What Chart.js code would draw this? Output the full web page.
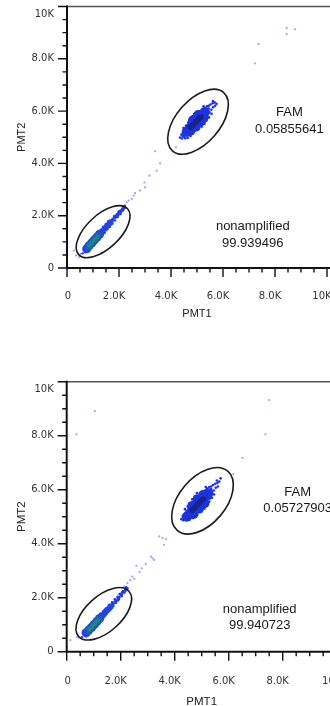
<!DOCTYPE html>
<html>
<head>
<meta charset="utf-8">
<script src="https://cdn.jsdelivr.net/npm/chart.js@4.4.1/dist/chart.umd.min.js"></script>
<style>
html, body { margin: 0; padding: 0; background: #fff; width: 330px; height: 706px; overflow: hidden; }
body { position: relative; }
.plot { position: absolute; left: 0; }
</style>
</head>
<body>
<div class="plot" style="top:0px"><canvas id="plotA" width="345" height="330"></canvas></div>
<div class="plot" style="top:376px"><canvas id="plotB" width="360" height="330"></canvas></div>
<script>
// axis ticks (PMT1 / PMT2, both 0..10K)
const tickValues = [0, 2000, 4000, 6000, 8000, 10000];
const tickLabels = ['0', '2.0K', '4.0K', '6.0K', '8.0K', '10K'];

// gates: [cx, cy, semi-major, semi-minor, angle deg] in PMT units
const gateNames = ['nonamplified', 'FAM'];
const gatesA = [[1389, 1388, 1285, 639, 43], [5040, 5595, 1488, 830, 48.5]];
const gatesB = [[1374, 1404, 1252, 659, 42], [5030, 5589, 1441, 859, 49.5]];
const pctA = ['99.939496', '0.05855641'];
const pctB = ['99.940723', '0.05727903'];

// ---- plot A events ----
const aSparse = [[12,160],[267,668],[455,410],[350,480],[520,540],
  [2300,2510],[2370,2580],[2490,2640],[2560,2770],[2620,2860],[2810,2960],[3000,3080],
  [2980,3270],[3170,3530],[3450,3720],[3580,4000],[3390,4460],[4190,4610],
  [7230,7820],[7360,8560],[8450,9170],[8450,8940],[8770,9130]];
const aLowEvents = [[600,560],[650,700],[700,600],[720,780],[780,700],[820,900],[880,780],[900,1000],
  [950,850],[1000,1120],[1050,930],[1100,1230],[1150,1050],[1200,1330],[1250,1150],[1300,1420],
  [1350,1250],[1400,1520],[1450,1350],[1500,1600],[1550,1480],[1600,1720],[1650,1580],[1700,1820],
  [1750,1700],[1800,1930],[1850,1820],[1900,2020],[1950,1950],[2000,2130],[2050,2060],[2100,2230],
  [2150,2200],[2200,2320],[2250,2300],[1250,1400],[1450,1580],[1700,1700],[1980,2150],[2220,2380],
  [1600,1600],[1820,1990],[2080,2120],[1380,1330],[1560,1700]];
const aLowBody = [[760,740],[850,850],[950,960],[1050,1070],[1150,1180],[1250,1290]];
const aLowNeck = [[1350,1400],[1450,1510],[1550,1620],[1650,1730]];
const aLowTail = [[1750,1840],[1850,1950],[1950,2050],[2050,2160],[2150,2260]];
const aLowInner = [[820,820],[920,930],[1020,1040],[1120,1150],[1220,1260]];
const aLowCore = [[860,860],[960,970],[1060,1085],[1160,1190]];
const aHighEvents = [[4350,4990],[4400,5100],[4420,4950],[4480,5200],[4500,5020],[4550,4960],[4560,5300],
  [4600,5100],[4620,5400],[4680,5150],[4700,5500],[4720,5250],[4780,5600],[4800,5200],[4850,5700],
  [4880,5350],[4920,5750],[4950,5400],[5000,5850],[5020,5450],[5080,5900],[5100,5500],[5150,5980],
  [5180,5600],[5220,6050],[5250,5700],[5300,6120],[5320,5800],[5380,6180],[5400,5880],[5450,6200],
  [5480,5950],[5520,6250],[5550,6050],[5600,6300],[5620,6150],[5680,6330],[5700,6200],[5450,6100],
  [4450,5050],[4650,4980],[4520,5120],[5750,6280],[5400,5750],[4620,5330],
  [4580,5450],[4660,5560],[4740,5680],[4840,5800],[5180,5400],[5280,5520],[5360,5640],[5460,5760],
  [4900,5900],[5560,5900],[4480,5350],[4750,5050],[5620,6380],[5250,6180]];
const aHighBody = [[4600,5200],[4700,5320],[4800,5430],[4900,5540],[5000,5650],[5100,5760],[5200,5870],
  [5300,5960],[4750,5250],[4950,5400],[5150,5600],[4850,5650],[5050,5850],[5250,5750]];
const aHighCore = [[4750,5380],[4850,5480],[4950,5580],[5050,5680],[5150,5770]];

// ---- plot B events ----
const bSparse = [[11,156],[138,427],[384,550],[450,520],
  [2120,2410],[2250,2540],[2350,2650],[2430,2780],[2500,2700],[2580,3180],[2700,2950],[2780,3090],
  [2930,3250],[3120,3520],[3180,3460],[3240,3400],[3430,4270],[3550,4210],[3680,4170],[3610,3960],
  [6170,6580],[6510,7180],[7500,9320],[1040,8910],[360,8050],[7360,8050]];
const bLowEvents = [[560,540],[620,680],[680,580],[700,770],[760,680],[800,890],[860,760],[880,990],
  [930,830],[980,1110],[1030,910],[1080,1220],[1130,1030],[1180,1320],[1230,1130],[1280,1420],
  [1330,1230],[1380,1520],[1430,1340],[1480,1610],[1530,1470],[1580,1730],[1630,1570],[1680,1830],
  [1730,1690],[1780,1940],[1830,1810],[1880,2030],[1930,1940],[1980,2140],[2030,2050],[2080,2240],
  [2130,2190],[2180,2330],[1230,1390],[1430,1570],[1680,1690],[1960,2140],[2200,2390],[1560,1640],
  [2250,2350],[1900,1900],[2050,2200],[1350,1300]];
const bLowBody = [[720,700],[820,800],[920,900],[1020,1010],[1120,1120],[1220,1230]];
const bLowNeck = [[1320,1340],[1420,1450],[1520,1560],[1620,1670]];
const bLowTail = [[1720,1790],[1820,1900],[1920,2010],[2020,2110],[2120,2220],[2200,2300]];
const bLowInner = [[800,790],[900,890],[1000,1000],[1100,1110],[1200,1220]];
const bLowCore = [[840,830],[940,930],[1040,1045],[1140,1150]];
const bHighEvents = [[4250,4910],[4300,5020],[4320,4870],[4380,5120],[4400,4940],[4450,4880],[4460,5220],
  [4500,5020],[4520,5320],[4580,5070],[4600,5420],[4620,5170],[4680,5520],[4700,5120],[4750,5620],
  [4780,5270],[4820,5670],[4850,5320],[4900,5770],[4920,5370],[4980,5820],[5000,5420],[5050,5900],
  [5080,5520],[5120,5970],[5150,5620],[5200,6040],[5220,5720],[5280,6100],[5300,5800],[5350,6120],
  [5380,5870],[5420,6170],[5450,5970],[5500,6220],[5520,6070],[5580,6250],[5600,6120],[5350,6020],
  [4350,4970],[4550,4900],[4420,5040],[5650,6300],[5300,5670],[4520,5250],[5700,6420],
  [4480,5380],[4560,5500],[4650,5640],[4750,5760],[5100,5300],[5200,5420],[5280,5560],[5380,5700],
  [4820,5880],[5460,5820],[4380,5280],[4650,4950],[5560,6340],[5150,6100]];
const bHighBody = [[4450,5000],[4550,5110],[4650,5220],[4750,5330],[4850,5440],[4950,5550],[5050,5660],
  [5150,5770],[5250,5870],[4700,5100],[4900,5300],[5100,5500],[4650,5400],[4850,5650],[5050,5800]];
const bHighCore = [[4650,5250],[4750,5350],[4850,5450],[4950,5550],[5050,5650]];

function pts(list) { return list.map(p => ({ x: p[0], y: p[1] })); }

function layer(list, color, r) {
  return { data: pts(list), backgroundColor: color, pointRadius: r, pointBorderWidth: 0, pointHoverRadius: r };
}

// Chart.js paints dataset 0 last, so the densest layers come first
function datasets(s) {
  return [
    layer(s.lowCore, '#178a80', 2.4),
    layer(s.highCore, '#17228f', 3),
    layer(s.lowInner, '#1f5cb4', 3.4),
    layer(s.lowBody, '#2546de', 4.6),
    layer(s.lowNeck, '#2244e0', 3.2),
    layer(s.lowTail, '#2040e6', 2),
    layer(s.highBody, '#1c34d8', 5),
    layer(s.lowEvents, '#1a2cff', 1.2),
    layer(s.highEvents, '#1a2cff', 1.3),
    layer(s.sparse, 'rgba(80,80,255,0.55)', 1.1)
  ];
}

// ticks, labels, frame, gates
const cytoPlugin = {
  id: 'cyto',
  afterDatasetsDraw(chart, args, o) {
    const { ctx, chartArea: a, scales: { x, y } } = chart;
    const x0 = x.getPixelForValue(0), y0 = y.getPixelForValue(0);
    const kx = (x.getPixelForValue(1000) - x0) / 1000;
    const ky = (y0 - y.getPixelForValue(1000)) / 1000;

    ctx.save();
    // gates
    ctx.strokeStyle = '#1c1c1c';
    ctx.lineWidth = 1.6;
    o.gates.forEach(g => {
      ctx.save();
      ctx.translate(x0, y0);
      ctx.scale(kx, -ky);
      ctx.beginPath();
      ctx.ellipse(g[0], g[1], g[2], g[3], g[4] * Math.PI / 180, 0, Math.PI * 2);
      ctx.restore();
      ctx.stroke();
    });

    // frame
    ctx.strokeStyle = '#555';
    ctx.lineWidth = 1.5;
    ctx.beginPath();
    ctx.moveTo(a.left, a.top);
    ctx.lineTo(a.right, a.top);
    ctx.stroke();
    ctx.strokeStyle = '#111';
    ctx.lineWidth = 2;
    ctx.beginPath();
    ctx.moveTo(a.left, a.top - 1);
    ctx.lineTo(a.left, a.bottom);
    ctx.lineTo(a.right, a.bottom);
    ctx.stroke();

    // tick marks every 500, long every 2000
    ctx.lineWidth = 1.4;
    for (let v = 0; v <= 10000; v += 500) {
      const len = v % 2000 === 0 ? 9 : 4.5;
      const py = y.getPixelForValue(v), px = x.getPixelForValue(v);
      ctx.beginPath();
      ctx.moveTo(a.left - len, py); ctx.lineTo(a.left, py);
      ctx.moveTo(px, a.bottom); ctx.lineTo(px, a.bottom + len);
      ctx.stroke();
    }

    // tick labels
    ctx.fillStyle = '#333';
    ctx.font = '10px "DejaVu Sans"';
    ctx.textBaseline = 'middle';
    tickValues.forEach((v, i) => {
      const lab = tickLabels[i];
      ctx.textAlign = 'right';
      ctx.fillText(lab, a.left - 13, Math.max(y.getPixelForValue(v), a.top + 7.5));
      ctx.textAlign = 'center';
      ctx.fillText(lab, x.getPixelForValue(v) + (lab.length > 1 ? -5 : 1), a.bottom + o.labelGap);
    });

    // axis titles
    ctx.font = o.titleSize + 'px "Liberation Sans"';
    ctx.fillStyle = '#222';
    const midX = (x.getPixelForValue(0) + x.getPixelForValue(10000)) / 2;
    ctx.fillText('PMT1', midX, a.bottom + o.titleGap);
    ctx.save();
    ctx.translate(22, (a.top + a.bottom) / 2);
    ctx.rotate(-Math.PI / 2);
    ctx.fillText('PMT2', 0, 0);
    ctx.restore();

    // gate statistics
    ctx.font = '13px "Liberation Sans"';
    ctx.fillStyle = '#1a1a1a';
    o.statPos.forEach((p, i) => {
      const px = x.getPixelForValue(p[0]), py = y.getPixelForValue(p[1]);
      ctx.fillText(gateNames[i], px, py);
      ctx.fillText(o.pct[i], px, py + 16.5);
    });
    ctx.restore();
  }
};

function makePlot(id, s, opt) {
  return new Chart(document.getElementById(id), {
    type: 'scatter',
    data: { datasets: datasets(s) },
    plugins: [cytoPlugin],
    options: {
      responsive: false,
      animation: false,
      layout: { padding: opt.padding },
      plugins: {
        legend: { display: false },
        tooltip: { enabled: false },
        cyto: opt.cyto
      },
      scales: {
        x: { type: 'linear', min: 0, max: 10500, display: false },
        y: { type: 'linear', min: 0, max: 10000, display: false }
      }
    }
  });
}

makePlot('plotA', {
  sparse: aSparse, lowEvents: aLowEvents, highEvents: aHighEvents, lowBody: aLowBody, lowNeck: aLowNeck,
  lowTail: aLowTail, lowInner: aLowInner, lowCore: aLowCore, highBody: aHighBody, highCore: aHighCore
}, {
  padding: { left: 67, top: 6.5, right: 3.6, bottom: 62 },
  cyto: { gates: gatesA, pct: pctA, statPos: [[7145, 1580], [8553, 5946]], labelGap: 28, titleGap: 46, titleSize: 11 }
});

makePlot('plotB', {
  sparse: bSparse, lowEvents: bLowEvents, highEvents: bHighEvents, lowBody: bLowBody, lowNeck: bLowNeck,
  lowTail: bLowTail, lowInner: bLowInner, lowCore: bLowCore, highBody: bHighBody, highCore: bHighCore
}, {
  padding: { left: 66.7, top: 5.7, right: 9.8, bottom: 54.3 },
  cyto: { gates: gatesB, pct: pctB, statPos: [[7148, 1581], [8556, 5915]], labelGap: 30, titleGap: 50, titleSize: 11.5 }
});
</script>
</body>
</html>
